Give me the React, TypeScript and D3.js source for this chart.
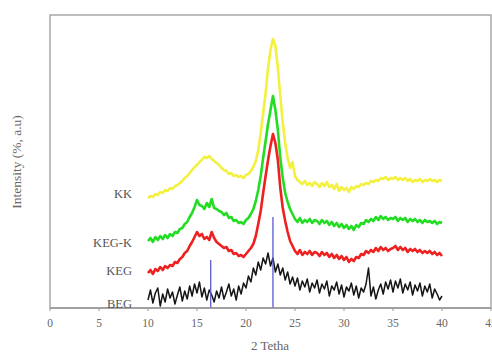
import React from "react";
import * as d3 from "d3";

// sample grid: 2θ from 10 to 40 in 0.25 steps (121 samples)
const X_START = 10;
const X_STEP = 0.25;

const KK = [
  110,112,111,114,113,116,115,118,117,120,
  119,122,123,125,127,130,132,135,138,141,
  143,146,148,151,150,152,149,147,145,143,
  140,138,137,134,135,132,133,131,132,130,
  133,134,137,141,147,158,175,195,215,240,
  258,269,262,240,212,185,165,150,140,146,
  132,128,126,124,127,123,125,122,126,124,
  121,125,122,126,121,123,119,124,117,121,
  118,120,116,121,119,122,121,124,123,125,
  124,127,126,128,127,130,129,131,128,130,
  129,131,128,130,128,130,127,129,126,128,
  127,129,126,128,127,129,127,128,126,128,
  127,
];

const KEGK = [
  67,70,66,71,68,72,69,73,70,74,
  72,76,75,79,80,84,86,91,95,101,
  108,103,102,99,105,101,109,100,99,97,
  96,93,95,90,91,87,88,85,86,84,
  88,90,94,99,107,118,132,150,167,184,
  198,212,198,178,150,130,115,106,99,94,
  89,86,90,85,88,86,89,85,88,87,
  84,88,85,87,83,86,82,85,81,84,
  80,83,79,82,78,83,81,85,84,88,
  86,89,87,91,88,92,89,91,88,90,
  89,91,87,90,88,90,86,89,87,89,
  86,88,85,88,86,87,85,87,84,86,
  85,
];

const KEG = [
  35,38,34,39,37,41,38,42,40,43,
  42,46,45,49,51,55,57,62,66,71,
  76,72,74,69,71,68,76,70,66,64,
  62,60,61,57,58,54,55,52,53,51,
  54,57,60,64,72,84,97,115,132,148,
  162,174,165,148,120,100,87,76,67,62,
  57,54,58,53,56,54,57,53,56,55,
  52,56,53,55,51,54,50,53,49,52,
  48,51,46,49,47,51,50,54,53,57,
  55,58,56,60,57,61,58,60,57,59,
  60,62,58,61,58,60,56,59,57,59,
  56,58,55,57,55,57,54,56,53,55,
  52,
];

const BEG = [
  8,18,5,15,20,2,14,6,19,10,
  16,4,13,21,7,17,9,22,12,24,
  15,26,11,20,8,18,13,6,17,10,
  21,9,16,24,12,19,8,22,14,25,
  20,32,26,40,33,46,38,50,44,55,
  42,50,36,44,33,40,28,36,24,31,
  22,30,18,27,21,29,16,25,20,28,
  15,24,19,27,12,22,18,26,14,23,
  11,21,17,25,13,22,10,20,16,24,
  40,12,21,9,18,24,14,26,19,28,
  16,27,20,29,15,24,18,26,13,23,
  17,25,12,22,16,24,10,19,14,8,
  12,
];

const SERIES = [
  { name: "KK", values: KK, color: "#f4f040", label: 193 },
  { name: "KEG-K", values: KEGK, color: "#22dd22", label: 242 },
  { name: "KEG", values: KEG, color: "#ee2020", label: 270 },
  { name: "BEG", values: BEG, color: "#151515", label: 303 },
];

const REF_X = [16.4, 22.75];
const REF_H = [48, 91];

const X_TICKS = [0, 5, 10, 15, 20, 25, 30, 35, 40, 45];

export default function App() {
  const left = 50, right = 491, top = 15, bottom = 308;
  const x = d3.scaleLinear().domain([0, 45]).range([left, right]);
  const y = d3.scaleLinear().domain([0, 293]).range([bottom, top]);
  const line = d3
    .line<number>()
    .x((_, i) => x(X_START + i * X_STEP))
    .y((d) => y(d));

  return (
    <svg
      width={492}
      height={352}
      style={{ position: "absolute", left: 0, top: 0, background: "#fff" }}
    >
      <rect x={0} y={0} width={492} height={352} fill="#fff" />
      {/* frame */}
      <rect
        x={left}
        y={top}
        width={right - left}
        height={bottom - top}
        fill="none"
        stroke="#a8a8a8"
        strokeWidth={1.5}
      />
      {SERIES.map((s) => (
        <path
          key={s.name}
          d={line(s.values) || ""}
          fill="none"
          stroke={s.color}
          strokeWidth={s.name === "BEG" ? 1.5 : 2.6}
          strokeLinejoin="round"
        />
      ))}
      {REF_X.map((v, i) => (
        <line
          key={i}
          x1={x(v)}
          x2={x(v)}
          y1={y(0)}
          y2={y(REF_H[i])}
          stroke="#5a5ad0"
          strokeWidth={1.3}
        />
      ))}
      {/* x axis */}
      <line x1={left} x2={right} y1={bottom} y2={bottom} stroke="#999" strokeWidth={1.5} />
      {X_TICKS.map((t) => (
        <g key={t}>
          <line x1={x(t)} x2={x(t)} y1={bottom} y2={bottom + 3} stroke="#999" strokeWidth={1} />
          <text
            x={x(t)}
            y={bottom + 19}
            textAnchor="middle"
            fontFamily="Liberation Serif"
            fontSize={11.5}
            fill="#666"
          >
            {t}
          </text>
        </g>
      ))}
      {SERIES.map((s) => (
        <text
          key={s.name}
          x={132}
          y={s.label + 4.5}
          textAnchor="end"
          fontFamily="Liberation Serif"
          fontSize={12.5}
          fill="#555"
        >
          {s.name}
        </text>
      ))}
      <text
        x={270}
        y={350}
        textAnchor="middle"
        fontFamily="Liberation Serif"
        fontSize={13}
        fill="#666"
      >
        2 Tetha
      </text>
      <text
        transform="translate(21,162) rotate(-90)"
        textAnchor="middle"
        fontFamily="Liberation Serif"
        fontSize={13.5}
        fill="#666"
      >
        Intensity (%, a.u)
      </text>
    </svg>
  );
}
